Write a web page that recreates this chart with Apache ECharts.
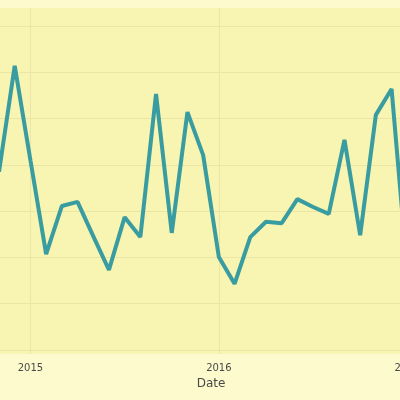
<!DOCTYPE html>
<html><head><meta charset="utf-8">
<script src="https://cdn.jsdelivr.net/npm/echarts@6/dist/echarts.min.js"></script>
<style>html,body{margin:0;padding:0;background:#fdfbcd}#c{width:400px;height:400px}</style>
</head><body><div id="c"></div><script>
// Monthly observations (YYYY-MM) and their values
const dates = ['2014-11','2014-12','2015-01','2015-02','2015-03','2015-04','2015-05','2015-06',
  '2015-07','2015-08','2015-09','2015-10','2015-11','2015-12','2016-01','2016-02','2016-03',
  '2016-04','2016-05','2016-06','2016-07','2016-08','2016-09','2016-10','2016-11','2016-12','2017-01'];
const values = [3.85,6.14,4.10,2.07,3.11,3.20,2.46,1.73,2.87,2.44,5.53,2.53,5.14,4.21,2.01,1.43,
  2.44,2.77,2.74,3.26,3.09,2.94,4.54,2.48,5.08,5.64,1.7];
const baseYear = 2015;
const xAxisName = 'Date';

function monthIndex(s){const p=s.split('-').map(Number);return (p[0]-baseYear)*12+(p[1]-1);}
const data = dates.map((d,i)=>[monthIndex(d), values[i]]);

const gridCol = '#ece6a6';
const chart = echarts.init(document.getElementById('c'));
chart.setOption({
  backgroundColor:'#fdfbcd',
  animation:false,
  grid:[
    {left:-158,right:-180,top:8,bottom:46,show:true,backgroundColor:'#f8f4b2',borderWidth:0,
     containLabel:false,outerBoundsMode:'none'},
    {left:-158,right:-180,top:26,bottom:50,containLabel:false,outerBoundsMode:'none'}
  ],
  xAxis:[
    {gridIndex:0,type:'value',min:-12,max:35,interval:12,
     axisLine:{show:false},axisTick:{show:false},
     splitLine:{show:true,lineStyle:{color:gridCol,width:1}},
     axisLabel:{color:'#4a4a4a',fontSize:10,margin:9,fontFamily:'DejaVu Sans',
       formatter:v=> (v%12===0)? String(baseYear+v/12):''},
     name:xAxisName,nameLocation:'middle',nameGap:24,
     nameTextStyle:{color:'#4a4a4a',fontSize:12,fontFamily:'DejaVu Sans'}},
    {gridIndex:1,type:'value',min:-12,max:35,show:false}
  ],
  yAxis:[
    {gridIndex:0,type:'value',min:0,max:1,show:false},
    {gridIndex:1,type:'value',min:0,max:7,interval:1,
     axisLine:{show:false},axisTick:{show:false},axisLabel:{show:false},
     splitLine:{show:true,lineStyle:{color:gridCol,width:1}}}
  ],
  series:[{type:'line',xAxisIndex:1,yAxisIndex:1,data:data,symbol:'none',
    lineStyle:{color:'#389ca0',width:4},clip:false}]
});
</script></body></html>
